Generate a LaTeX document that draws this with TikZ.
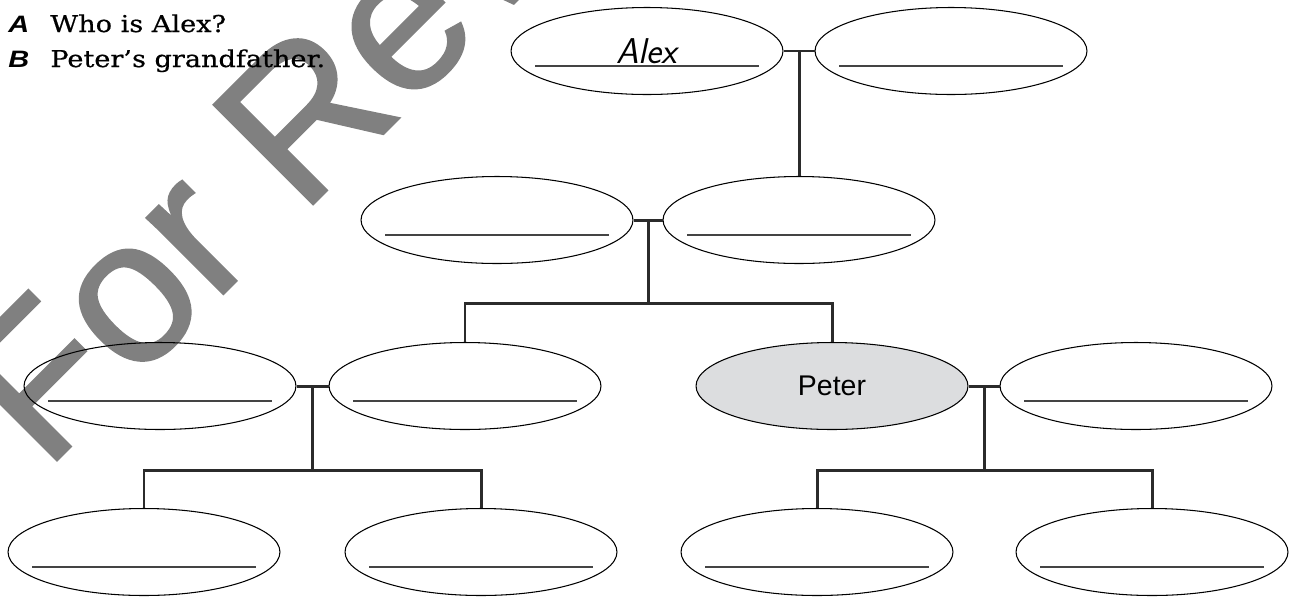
\documentclass[tikz,border=0pt]{standalone}
\usepackage{fontspec}
\usetikzlibrary{shapes.geometric,calc}
\newfontfamily\arialfont{Liberation Sans}
\newfontfamily\tagfont{Liberation Sans}[FakeStretch=1.22]
\newfontfamily\markfont{Liberation Sans}[FakeBold=1.3]
\newfontfamily\askfont{DejaVu Serif}[FakeStretch=1.17, FakeBold=0.6]
\definecolor{selfgray}{HTML}{DCDDDF}
\definecolor{linkgray}{HTML}{2B2B2B}
\definecolor{rulegray}{HTML}{444444}
\definecolor{markgray}{HTML}{808080}

\tikzset{
	person/.style={ellipse, draw, line width=0.6pt, minimum width=5.44cm, minimum height=1.74cm, inner sep=0pt},
	blank/.style={person, path picture={\draw[rulegray, line width=0.8pt] ([xshift=-2.24cm,yshift=-0.3cm]path picture bounding box.center) -- ++(4.48cm,0);}},
	self/.style={person, fill=selfgray, font=\arialfont\fontsize{16.2}{19}\selectfont},
	link/.style={draw=linkgray, line width=1.7pt},
	tag/.style={anchor=base west, inner sep=0pt, font=\tagfont\bfseries\itshape\fontsize{13.5}{16}\selectfont},
	ask/.style={anchor=base west, inner sep=0pt, font=\askfont\fontsize{13.2}{16}\selectfont},
}

\begin{document}
\begin{tikzpicture}[x=0.02cm, y=-0.02cm]
		\useasboundingbox (0,0) rectangle (1291,596);

		% watermark
		\begin{scope}
			\clip (0,0) rectangle (1291,596);
			\node [markgray, rotate=45, anchor=base west, inner sep=0pt, font=\markfont\fontsize{116}{116}\selectfont] (mark) at (45,472) {For Review};
		\end{scope}

		\node [tag] (qa) at (8,32) {A};
		\node [ask] (qtext) at (50,32) {Who is Alex?};
		\node [tag] (qb) at (8,67) {B};
		\node [ask] (atext) at (50,67) {Peter’s grandfather.};

		\draw (647,51) node [blank, font=\sffamily\slshape\fontsize{20.4}{24}\selectfont] (a1) {Alex};
		\draw (951,51) node [blank] (a2) {};
		\draw (497,220) node [blank] (b1) {};
		\draw (799,220) node [blank] (b2) {};
		\draw (160,386) node [blank] (c1) {};
		\draw (465,386) node [blank] (c2) {};
		\draw (832,386) node [self] (peter) {Peter};
		\draw (1136,386) node [blank] (c4) {};
		\draw (144,552) node [blank] (d1) {};
		\draw (481,552) node [blank] (d2) {};
		\draw (817,552) node [blank] (d3) {};
		\draw (1152,552) node [blank] (d4) {};

		\draw [link] (a1.east) -- (a2.west)
			(b2.north) -- (b2.north |- a1.east);

		\coordinate (jb) at ($(b1.east)!.5!(b2.west)$);
		\draw [link] (b1.east) -- (b2.west)
			(jb) -- ++(0,83) coordinate (kb)
			(c2.north) |- (kb) -| (peter.north);

		\coordinate (jc) at ($(c1.east)!.5!(c2.west)$);
		\draw [link] (c1.east) -- (c2.west)
			(jc) -- ++(0,84) coordinate (kc)
			(d1.north) |- (kc) -| (d2.north);

		\coordinate (jd) at ($(peter.east)!.5!(c4.west)$);
		\draw [link] (peter.east) -- (c4.west)
			(jd) -- ++(0,84) coordinate (kd)
			(d3.north) |- (kd) -| (d4.north);
	\end{tikzpicture}
\end{document}
